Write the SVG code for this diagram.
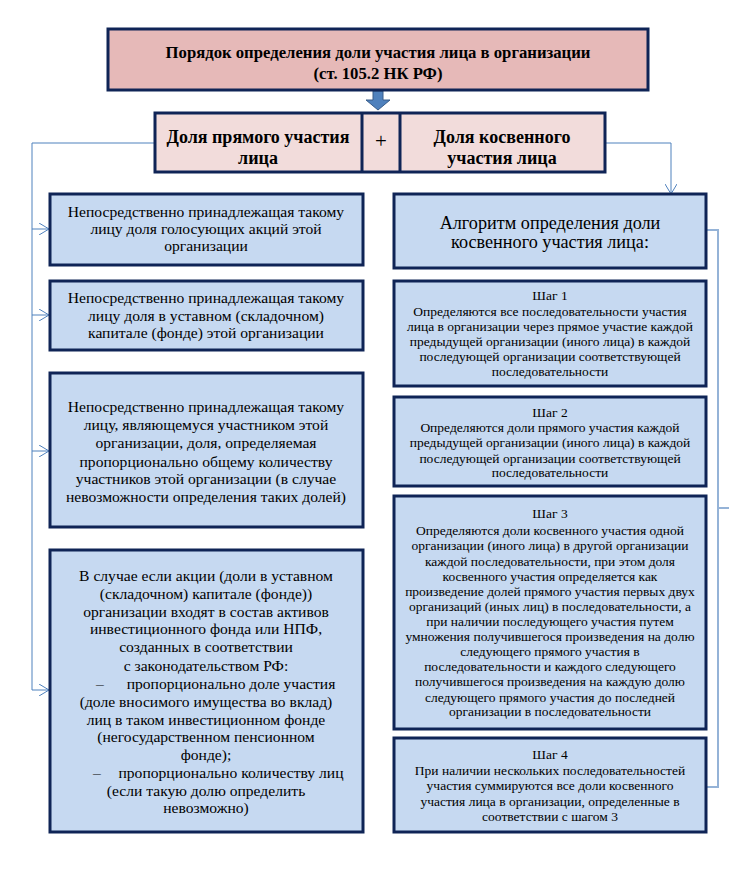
<svg xmlns="http://www.w3.org/2000/svg" width="747" height="870" viewBox="0 0 747 870" font-family="'Liberation Serif', 'DejaVu Serif', serif">
<style>
text{fill:#000;text-anchor:middle}
.box{fill:#c6d9f1;stroke:#0f2456;stroke-width:3}
.pink{fill:#f2dcdb;stroke:#0f2456;stroke-width:3}
.title{fill:#e6b9b8;stroke:#0f2456;stroke-width:3}
.t14{font-size:15.6px}
.t12{font-size:13.5px}
.t17{font-size:18.2px}
.b{font-weight:bold}
.conn{fill:none;stroke:#4f81bd;stroke-width:1}
.brace{fill:none;stroke:#95b3d7;stroke-width:2}
</style>
<defs>
<marker id="arr" viewBox="0 0 10 12" refX="10" refY="6" markerWidth="10" markerHeight="12" markerUnits="userSpaceOnUse" orient="auto">
<path d="M0,0 L10,6 L0,12" fill="none" stroke="#4f81bd" stroke-width="1"/>
</marker>
</defs>

<g id="connectors">
<path class="conn" d="M155,143 H32 V690 H49" marker-end="url(#arr)"/>
<path class="conn" d="M32,229 H49" marker-end="url(#arr)"/>
<path class="conn" d="M32,315 H49" marker-end="url(#arr)"/>
<path class="conn" d="M32,451 H49" marker-end="url(#arr)"/>
<path class="conn" d="M605,143 H671 V194" marker-end="url(#arr)"/>
<path class="brace" d="M706,230 H718 V787 H706 M718,508 H729"/>
<polygon points="373,91 383,91 383,100 390,100 378,110 366,100 373,100" fill="#4f81bd" stroke="#385d8a" stroke-width="1"/>
</g>

<g id="title">
<rect class="title" x="108" y="29" width="540" height="61"/>
<text class="b" x="378" y="58" style="font-size:16.7px">Порядок определения доли участия лица в организации</text>
<text class="b" x="378" y="79" style="font-size:16.7px">(ст. 105.2 НК РФ)</text>
</g>

<g id="shares">
<rect class="pink" x="155" y="113" width="450" height="59"/>
<line x1="362" y1="113" x2="362" y2="172" stroke="#0f2456" stroke-width="3"/>
<line x1="400" y1="113" x2="400" y2="172" stroke="#0f2456" stroke-width="3"/>
<text class="b" x="258" y="143" style="font-size:18px">Доля прямого участия</text>
<text class="b" x="258" y="164" style="font-size:18px">лица</text>
<text x="381" y="148" style="font-size:21px">+</text>
<text class="b" x="502" y="143" style="font-size:18px">Доля косвенного</text>
<text class="b" x="502" y="164" style="font-size:18px">участия лица</text>
</g>

<g id="direct1">
<rect class="box" x="50" y="194" width="313" height="71"/>
<text class="t14" x="206" y="217">Непосредственно принадлежащая такому</text>
<text class="t14" x="206" y="234">лицу доля голосующих акций этой</text>
<text class="t14" x="206" y="251">организации</text>
</g>

<g id="direct2">
<rect class="box" x="50" y="281" width="313" height="69"/>
<text class="t14" x="206" y="303">Непосредственно принадлежащая такому</text>
<text class="t14" x="206" y="321">лицу доля в уставном (складочном)</text>
<text class="t14" x="206" y="338">капитале (фонде) этой организации</text>
</g>

<g id="direct3">
<rect class="box" x="50" y="373" width="313" height="154"/>
<text class="t14" x="206" y="412">Непосредственно принадлежащая такому</text>
<text class="t14" x="206" y="430">лицу, являющемуся участником этой</text>
<text class="t14" x="206" y="448">организации, доля, определяемая</text>
<text class="t14" x="206" y="467">пропорционально общему количеству</text>
<text class="t14" x="206" y="484">участников этой организации (в случае</text>
<text class="t14" x="206" y="502">невозможности определения таких долей)</text>
</g>

<g id="direct4">
<rect class="box" x="50" y="550" width="313" height="282"/>
<text class="t14" x="206" y="581">В случае если акции (доли в уставном</text>
<text class="t14" x="206" y="599">(складочном) капитале (фонде))</text>
<text class="t14" x="206" y="617">организации входят в состав активов</text>
<text class="t14" x="206" y="634">инвестиционного фонда или НПФ,</text>
<text class="t14" x="206" y="652">созданных в соответствии</text>
<text class="t14" x="206" y="671">с законодательством РФ:</text>
<text class="t14" x="100" y="689">–</text>
<text class="t14" x="231" y="689">пропорционально доле участия</text>
<text class="t14" x="206" y="707">(доле вносимого имущества во вклад)</text>
<text class="t14" x="206" y="725">лиц в таком инвестиционном фонде</text>
<text class="t14" x="206" y="742">(негосударственном пенсионном</text>
<text class="t14" x="206" y="760">фонде);</text>
<text class="t14" x="97" y="778">–</text>
<text class="t14" x="231" y="778">пропорционально количеству лиц</text>
<text class="t14" x="206" y="796">(если такую долю определить</text>
<text class="t14" x="206" y="813">невозможно)</text>
</g>

<g id="algorithm">
<rect class="box" x="394" y="194" width="312" height="74"/>
<text class="t17" x="550" y="229">Алгоритм определения доли</text>
<text class="t17" x="550" y="248">косвенного участия лица:</text>
</g>

<g id="step1">
<rect class="box" x="394" y="281" width="312" height="105"/>
<text class="t12" x="550" y="300">Шаг 1</text>
<text class="t12" x="550" y="316">Определяются все последовательности участия</text>
<text class="t12" x="550" y="331">лица в организации через прямое участие каждой</text>
<text class="t12" x="550" y="346">предыдущей организации (иного лица) в каждой</text>
<text class="t12" x="550" y="361">последующей организации соответствующей</text>
<text class="t12" x="550" y="376">последовательности</text>
</g>

<g id="step2">
<rect class="box" x="394" y="397" width="312" height="89"/>
<text class="t12" x="550" y="417">Шаг 2</text>
<text class="t12" x="550" y="432">Определяются доли прямого участия каждой</text>
<text class="t12" x="550" y="447">предыдущей организации (иного лица) в каждой</text>
<text class="t12" x="550" y="463">последующей  организации соответствующей</text>
<text class="t12" x="550" y="477">последовательности</text>
</g>

<g id="step3">
<rect class="box" x="394" y="496" width="312" height="233"/>
<text class="t12" x="550" y="518">Шаг 3</text>
<text class="t12" x="550" y="535">Определяются доли косвенного участия одной</text>
<text class="t12" x="550" y="550">организации (иного лица) в другой организации</text>
<text class="t12" x="550" y="566">каждой последовательности, при этом доля</text>
<text class="t12" x="550" y="581">косвенного участия определяется как</text>
<text class="t12" x="550" y="596">произведение долей прямого участия первых двух</text>
<text class="t12" x="550" y="611">организаций (иных лиц) в последовательности, а</text>
<text class="t12" x="550" y="626">при наличии последующего участия путем</text>
<text class="t12" x="550" y="641">умножения получившегося произведения на долю</text>
<text class="t12" x="550" y="656">следующего прямого участия в</text>
<text class="t12" x="550" y="671">последовательности и каждого следующего</text>
<text class="t12" x="550" y="686">получившегося произведения на каждую долю</text>
<text class="t12" x="550" y="702">следующего прямого участия до последней</text>
<text class="t12" x="550" y="716">организации в последовательности</text>
</g>

<g id="step4">
<rect class="box" x="394" y="738" width="312" height="94"/>
<text class="t12" x="550" y="759">Шаг 4</text>
<text class="t12" x="550" y="775">При наличии нескольких  последовательностей</text>
<text class="t12" x="550" y="790">участия суммируются все доли косвенного</text>
<text class="t12" x="550" y="806">участия лица в организации, определенные в</text>
<text class="t12" x="550" y="821">соответствии с шагом 3</text>
</g>
</svg>
